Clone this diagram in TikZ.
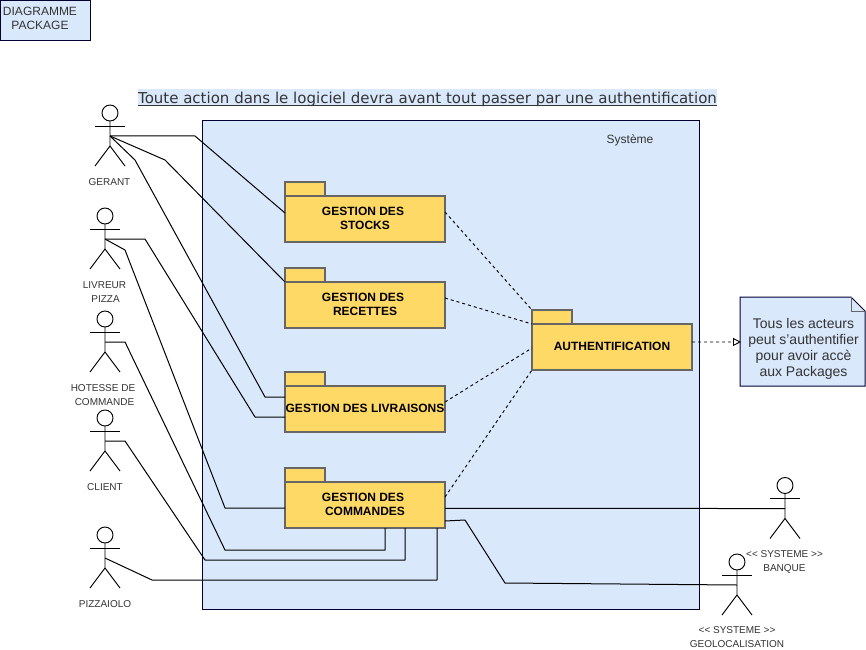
\documentclass[tikz,border=0pt]{standalone}
\usepackage{fontspec}
\setmainfont{Liberation Sans}
\newfontfamily\titlefont{DejaVu Sans}
\usetikzlibrary{arrows.meta}
\definecolor{sysblue}{HTML}{DAE8FC}
\definecolor{navyline}{HTML}{000033}
\definecolor{pkgyellow}{HTML}{FFD966}
\definecolor{pkgline}{HTML}{666666}
\definecolor{lbltext}{HTML}{333333}
\newcommand{\Actor}[3]{%
	\node[actorHead] (#1) at (#2,#3) {};
	\draw[actorLine] (#2-15,#3+13) -- (#2+15,#3+13);
	\draw[actorLine] (#1.south) -- (#2,#3+33) -- (#2-15,#3+53);
	\draw[actorLine] (#2,#3+33) -- (#2+15,#3+53);
	\coordinate (#1Hub) at (#2,#3+23);
}
\newcommand{\Package}[4]{%
	\node[pkgBody] (#1) at (#2,#3) {};
	\node[pkgTab] (#1Tab) at (#1.north west) {};
	\node[pkgText] (#1Text) at (#2,#3-0.5) {#4};
}
\begin{document}
\begin{tikzpicture}[x=0.75pt, y=-0.75pt, every node/.style={outer sep = 0pt}]
	\tikzstyle{actorHead}=[shape = circle, minimum size = 12pt, inner sep = 0pt, draw, line width = 0.7pt]
	\tikzstyle{actorLine}=[draw, line width = 0.7pt]
	\tikzstyle{actorLabel}=[align = center, text = lbltext, font = \fontsize{7.5}{10.5}\selectfont]
	\tikzstyle{pkgBody}=[shape = rectangle, draw = pkgline, fill = pkgyellow, line width = 0.9pt, minimum width = 120pt, minimum height = 34.5pt, inner sep = 0pt]
	\tikzstyle{pkgTab}=[shape = rectangle, draw = pkgline, fill = pkgyellow, line width = 0.9pt, minimum width = 30pt, minimum height = 10.5pt, inner sep = 0pt, anchor = south west]
	\tikzstyle{pkgText}=[align = center, inner sep = 0pt, font = \bfseries\fontsize{9}{10.5}\selectfont]
	\tikzstyle{linkStyle}=[draw, line width = 0.75pt, line join = round]
	\tikzstyle{dashStyle}=[draw, line width = 0.7pt, dash pattern = on 2.25pt off 2.25pt]
	\useasboundingbox (0,0) rectangle (866,649);
	% frames
	\node[draw = navyline, fill = sysblue, line width = 0.75pt, anchor = north west, minimum width = 67.5pt, minimum height = 30pt, inner sep = 0pt] (diagTitle) at (0.5,0.5) {};
	\node[align = center, text = lbltext, font = \fontsize{9}{10.5}\selectfont] (diagText) at (40,18) {DIAGRAMME\\PACKAGE};
	\node[fill = sysblue, inner sep = 0pt, minimum width = 434.25pt, text height = 11.25pt, text depth = 1.5pt, font = \titlefont\fontsize{11.25}{12}\selectfont, text = lbltext] (banner) at (427.5,97.5) {Toute action dans le logiciel devra avant tout passer par une authentification};
	\draw[lbltext, line width = 0.7pt] ([yshift=0.75pt]banner.south west) -- ([yshift=0.75pt]banner.south east);
	\node[draw = navyline, fill = sysblue, line width = 0.75pt, anchor = north west, minimum width = 372.75pt, minimum height = 366pt, inner sep = 0pt] (system) at (202.5,121) {};
	\node[text = lbltext, font = \fontsize{9}{10.5}\selectfont] (systemText) at (630,140) {Système};
	% actors
	\Actor{gerant}{110}{113}
	\Actor{livreur}{105}{216}
	\Actor{hotesse}{105}{319}
	\Actor{client}{105}{418}
	\Actor{pizzaiolo}{105}{535}
	\Actor{banque}{785}{485.5}
	\Actor{geoloc}{737}{562}
	\node[actorLabel] (gerantText) at (109.5,182) {GERANT};
	\node[actorLabel] (livreurText) at (105.5,292) {LIVREUR\kern1.5pt\\PIZZA};
	\node[actorLabel] (hotesseText) at (104.5,395) {HOTESSE DE\kern2.25pt\\COMMANDE};
	\node[actorLabel] (clientText) at (105,487) {CLIENT};
	\node[actorLabel] (pizzaioloText) at (105,604) {PIZZAIOLO};
	\node[actorLabel] (banqueText) at (784.5,562) {<{}< SYSTEME >{}>\\BANQUE};
	\node[actorLabel] (geolocText) at (737,637) {<{}< SYSTEME >{}>\\GEOLOCALISATION};
	% packages
	\Package{stocks}{365}{219}{GESTION DES\kern3pt\\STOCKS}
	\Package{recettes}{365}{305}{GESTION DES\kern3pt\\RECETTES}
	\Package{livraisons}{365}{409}{GESTION DES LIVRAISONS}
	\Package{commandes}{365}{505}{GESTION DES\kern3pt\\COMMANDES}
	\Package{auth}{612}{347}{AUTHENTIFICATION}
	% note
	\draw[draw = navyline, fill = sysblue, line width = 0.75pt] (740,297) -- (851,297) -- (865,311) -- (865,386) -- (740,386) -- cycle;
	\draw[draw = pkgline, line width = 0.7pt] (851,297) -- (851,311) -- (865,311);
	\node[align = center, inner sep = 0pt, minimum width = 93.75pt, text = lbltext, font = \fontsize{10.5}{12}\selectfont] (note) at (803.5,348.5) {Tous les acteurs\\peut s'authentifier\\pour avoir accè\\aux Packages};
	% links
	\draw[linkStyle] (gerantHub) -- (195,136) -- ([yshift=4.5pt]stocks.west);
	\draw[linkStyle] (gerantHub) -- (165,160) -- (recettes.north west);
	\draw[linkStyle] (gerantHub) -- (135,160) -- (265,397) -- ([yshift=9pt]livraisons.west);
	\draw[linkStyle] (livreurHub) -- (145,239) -- (255,417) -- ([yshift=-6pt]livraisons.west);
	\draw[linkStyle] (livreurHub) -- (125,250) -- (225,508) -- ([yshift=-2.25pt]commandes.west);
	\draw[linkStyle] (hotesseHub) -- (125,342) -- (225,550) -- (385,550) -- ([xshift=15pt]commandes.south);
	\draw[linkStyle] (clientHub) -- (125,441) -- (205,560) -- (405,560) -- ([xshift=30pt]commandes.south);
	\draw[linkStyle] (pizzaioloHub) -- (152,580) -- (437,580) -- ([xshift=54pt]commandes.south);
	\draw[linkStyle] ([yshift=-2.6pt]commandes.east) -- (banqueHub);
	\draw[linkStyle] ([yshift=-12pt]commandes.east) -- (465,520) -- (505,583) -- (geolocHub);
	\draw[dashStyle] ([yshift=5.25pt]stocks.east) -- (authTab.north west);
	\draw[dashStyle] ([yshift=5.25pt]recettes.east) -- (auth.north west);
	\draw[dashStyle] ([yshift=5.25pt]livraisons.east) -- ([yshift=-0.75pt]auth.west);
	\draw[dashStyle] ([yshift=6pt]commandes.east) -- (auth.south west);
	\draw[dashStyle, -{Triangle[open, length = 6pt, width = 6pt]}] ([yshift=3.75pt]auth.east) -- ([yshift=4.9pt]note.west);
\end{tikzpicture}
\end{document}
